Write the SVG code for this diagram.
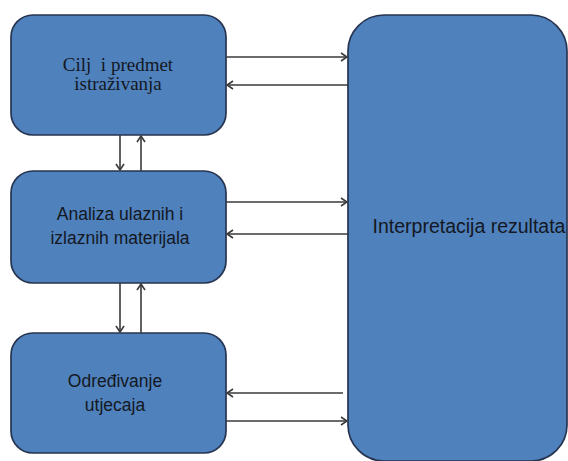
<svg xmlns="http://www.w3.org/2000/svg" width="568" height="461" viewBox="0 0 568 461">
<style>
.box{fill:#4f81bd;stroke:#263450;stroke-width:1.7}
.ln{stroke:#3a3a3a;stroke-width:1.6;fill:none;marker-end:url(#ah)}
.serif{font-family:"Liberation Serif","Times New Roman",serif;font-size:19px;fill:#141822;text-anchor:middle;white-space:pre}
.sans{font-family:"Liberation Sans",Arial,sans-serif;font-size:17.5px;fill:#141822;text-anchor:middle}
.big{font-size:19.5px}
</style>
<defs>
<marker id="ah" viewBox="0 0 10 10" refX="9" refY="5" markerWidth="10" markerHeight="10" markerUnits="userSpaceOnUse" orient="auto">
<path d="M3,1 L9,5 L3,9" fill="none" stroke="#3a3a3a" stroke-width="1.6"/>
</marker>
</defs>
<g id="node-interpretacija">
<rect class="box" x="348" y="15" width="219" height="446" rx="36" ry="36"/>
<text class="sans big" x="469" y="233">Interpretacija rezultata</text>
</g>
<g id="node-cilj">
<rect class="box" x="11" y="15" width="215" height="120" rx="22" ry="22"/>
<text class="serif" x="118" y="71" xml:space="preserve">Cilj  i predmet</text>
<text class="serif" x="118" y="90">istraživanja</text>
</g>
<g id="node-analiza">
<rect class="box" x="11" y="171" width="215" height="112" rx="22" ry="22"/>
<text class="sans" x="120" y="220">Analiza ulaznih i</text>
<text class="sans" x="120" y="244">izlaznih materijala</text>
</g>
<g id="node-odredivanje">
<rect class="box" x="11" y="333" width="215" height="120" rx="22" ry="22"/>
<text class="sans" x="115" y="387">Određivanje</text>
<text class="sans" x="115" y="411">utjecaja</text>
</g>
<g id="connectors">
<line class="ln" x1="226" y1="57" x2="347" y2="57"/>
<line class="ln" x1="348" y1="85" x2="227" y2="85"/>
<line class="ln" x1="226" y1="202" x2="347" y2="202"/>
<line class="ln" x1="348" y1="234" x2="227" y2="234"/>
<line class="ln" x1="343" y1="393" x2="227" y2="393"/>
<line class="ln" x1="226" y1="421" x2="347" y2="421"/>
<line class="ln" x1="120" y1="135" x2="120" y2="170"/>
<line class="ln" x1="141" y1="171" x2="141" y2="136"/>
<line class="ln" x1="120" y1="283" x2="120" y2="332"/>
<line class="ln" x1="141" y1="333" x2="141" y2="284"/>
</g>
</svg>
